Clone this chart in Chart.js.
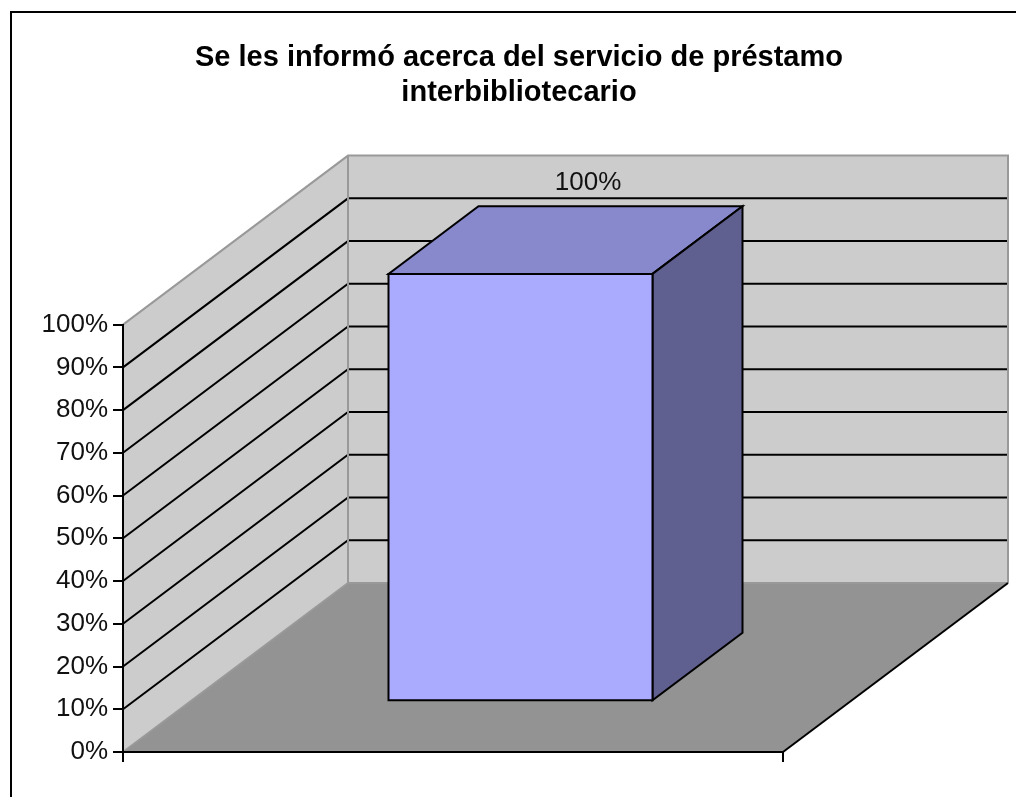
<!DOCTYPE html>
<html>
<head>
<meta charset="utf-8">
<script src="https://cdn.jsdelivr.net/npm/chart.js@4/dist/chart.umd.min.js"></script>
<style>
  html, body { margin: 0; padding: 0; background: #fff; }
  canvas { display: block; }
</style>
</head>
<body>
<canvas id="chart" width="1016" height="797"></canvas>
<script>
const titleLines = ['Se les informó acerca del servicio de préstamo', 'interbibliotecario'];
const categories = [''];
const values = [1];
const tickLabels = ['0%', '10%', '20%', '30%', '40%', '50%', '60%', '70%', '80%', '90%', '100%'];

// depth of the 3d box (front plane -> back wall), in pixels
const depth = { x: 225, y: -169 };
const barFront = 0.3, barBack = 0.7;

const wallFill = '#cccccc';
const floorFill = '#939393';
const edgeGray = '#999999';

function poly(ctx, pts, fill, stroke, lw) {
  ctx.beginPath();
  ctx.moveTo(pts[0][0], pts[0][1]);
  for (let i = 1; i < pts.length; i++) ctx.lineTo(pts[i][0], pts[i][1]);
  ctx.closePath();
  if (fill) { ctx.fillStyle = fill; ctx.fill(); }
  if (stroke) { ctx.strokeStyle = stroke; ctx.lineWidth = lw || 1; ctx.stroke(); }
}

const box3d = {
  id: 'box3d',
  beforeDraw(chart) {
    const ctx = chart.ctx;
    const y = chart.scales.y;
    const l = chart.chartArea.left, r = chart.chartArea.right;
    const y0 = y.getPixelForValue(0), y1 = y.getPixelForValue(1);
    const dx = depth.x, dy = depth.y;
    ctx.save();
    ctx.lineJoin = 'miter';
    // outer frame
    ctx.strokeStyle = '#000';
    ctx.lineWidth = 2;
    ctx.strokeRect(11, 12, 1200, 1000);
    // left wall
    poly(ctx, [[l, y0], [l, y1], [l + dx, y1 + dy], [l + dx, y0 + dy]], wallFill);
    // back wall
    poly(ctx, [[l + dx, y1 + dy], [r + dx, y1 + dy], [r + dx, y0 + dy], [l + dx, y0 + dy]], wallFill);
    // floor
    poly(ctx, [[l, y0], [r, y0], [r + dx, y0 + dy], [l + dx, y0 + dy]], floorFill);
    // grid lines
    ctx.strokeStyle = '#000';
    ctx.lineWidth = 2;
    for (let i = 1; i < tickLabels.length - 1; i++) {
      const v = i / (tickLabels.length - 1);
      const py = y.getPixelForValue(v);
      ctx.beginPath();
      ctx.moveTo(l, py);
      ctx.lineTo(l + dx, py + dy);
      ctx.lineTo(r + dx, py + dy);
      ctx.stroke();
    }
    // gray wall edges
    ctx.strokeStyle = edgeGray;
    ctx.lineWidth = 2;
    ctx.beginPath();
    ctx.moveTo(l, y1);
    ctx.lineTo(l + dx, y1 + dy);
    ctx.lineTo(r + dx, y1 + dy);
    ctx.lineTo(r + dx, y0 + dy);
    ctx.moveTo(l + dx, y1 + dy);
    ctx.lineTo(l + dx, y0 + dy);
    ctx.lineTo(r + dx, y0 + dy);
    ctx.moveTo(l, y0);
    ctx.lineTo(l + dx, y0 + dy);
    ctx.stroke();
    // floor right edge
    ctx.strokeStyle = '#000';
    ctx.beginPath();
    ctx.moveTo(r, y0);
    ctx.lineTo(r + dx, y0 + dy);
    ctx.stroke();
    ctx.restore();
  },
  afterDatasetsDraw(chart) {
    const ctx = chart.ctx;
    const meta = chart.getDatasetMeta(0);
    const dx = depth.x, dy = depth.y;
    ctx.save();
    ctx.lineJoin = 'miter';
    meta.data.forEach((bar, i) => {
      const left = bar.x - bar.width / 2, right = bar.x + bar.width / 2;
      const fx = dx * barFront, fy = dy * barFront;
      const bx = dx * barBack, by = dy * barBack;
      const top = bar.y, base = bar.base;
      // top face
      poly(ctx, [[left + fx, top + fy], [right + fx, top + fy], [right + bx, top + by], [left + bx, top + by]], '#8888cc', '#000', 2);
      // side face
      poly(ctx, [[right + fx, top + fy], [right + bx, top + by], [right + bx, base + by], [right + fx, base + fy]], '#606090', '#000', 2);
      // front face
      poly(ctx, [[left + fx, top + fy], [right + fx, top + fy], [right + fx, base + fy], [left + fx, base + fy]], '#aaaaff', '#000', 2);
      // value label
      ctx.fillStyle = '#111';
      ctx.font = '26px "Liberation Sans", Arial, sans-serif';
      ctx.textAlign = 'center';
      ctx.textBaseline = 'middle';
      ctx.fillText(Math.round(values[i] * 100) + '%', bar.x + dx * 0.6, top + dy * 0.6 - 40);
    });
    ctx.restore();
  }
};

Chart.defaults.font.family = '"Liberation Sans", Arial, sans-serif';
Chart.defaults.color = '#111';

new Chart(document.getElementById('chart'), {
  type: 'bar',
  data: {
    labels: categories,
    datasets: [{
      data: values,
      backgroundColor: 'rgba(0,0,0,0)',
      borderWidth: 0,
      barPercentage: 0.4,
      categoryPercentage: 1
    }]
  },
  options: {
    responsive: false,
    animation: false,
    layout: { padding: { left: 39, right: 17, top: 0, bottom: 35 } },
    scales: {
      x: {
        grid: { offset: true, drawOnChartArea: false, color: '#000', lineWidth: 2, tickLength: 10 },
        border: { color: '#000', width: 2 },
        ticks: { display: false },
        afterFit(scale) { scale.height = 10; }
      },
      y: {
        min: 0,
        max: 1,
        grid: { drawOnChartArea: false, color: '#000', lineWidth: 2, tickLength: 10 },
        border: { color: '#000', width: 2 },
        ticks: {
          stepSize: 0.1,
          padding: 5,
          font: { size: 26 },
          color: '#111',
          callback: function(value, index) { return tickLabels[index]; }
        },
        afterFit(scale) { scale.width = 84; }
      },
      // empty right-hand room taken by the depth of the 3d box
      depthRoom: {
        position: 'right',
        grid: { display: false },
        border: { display: false },
        ticks: { display: false },
        afterFit(scale) { scale.width = 216; }
      }
    },
    plugins: {
      legend: { display: false },
      tooltip: { enabled: false },
      title: {
        display: true,
        text: titleLines,
        color: '#000',
        font: { size: 29, weight: 'bold' },
        padding: { top: 41, bottom: 214 }
      }
    }
  },
  plugins: [box3d]
});
</script>
</body>
</html>
